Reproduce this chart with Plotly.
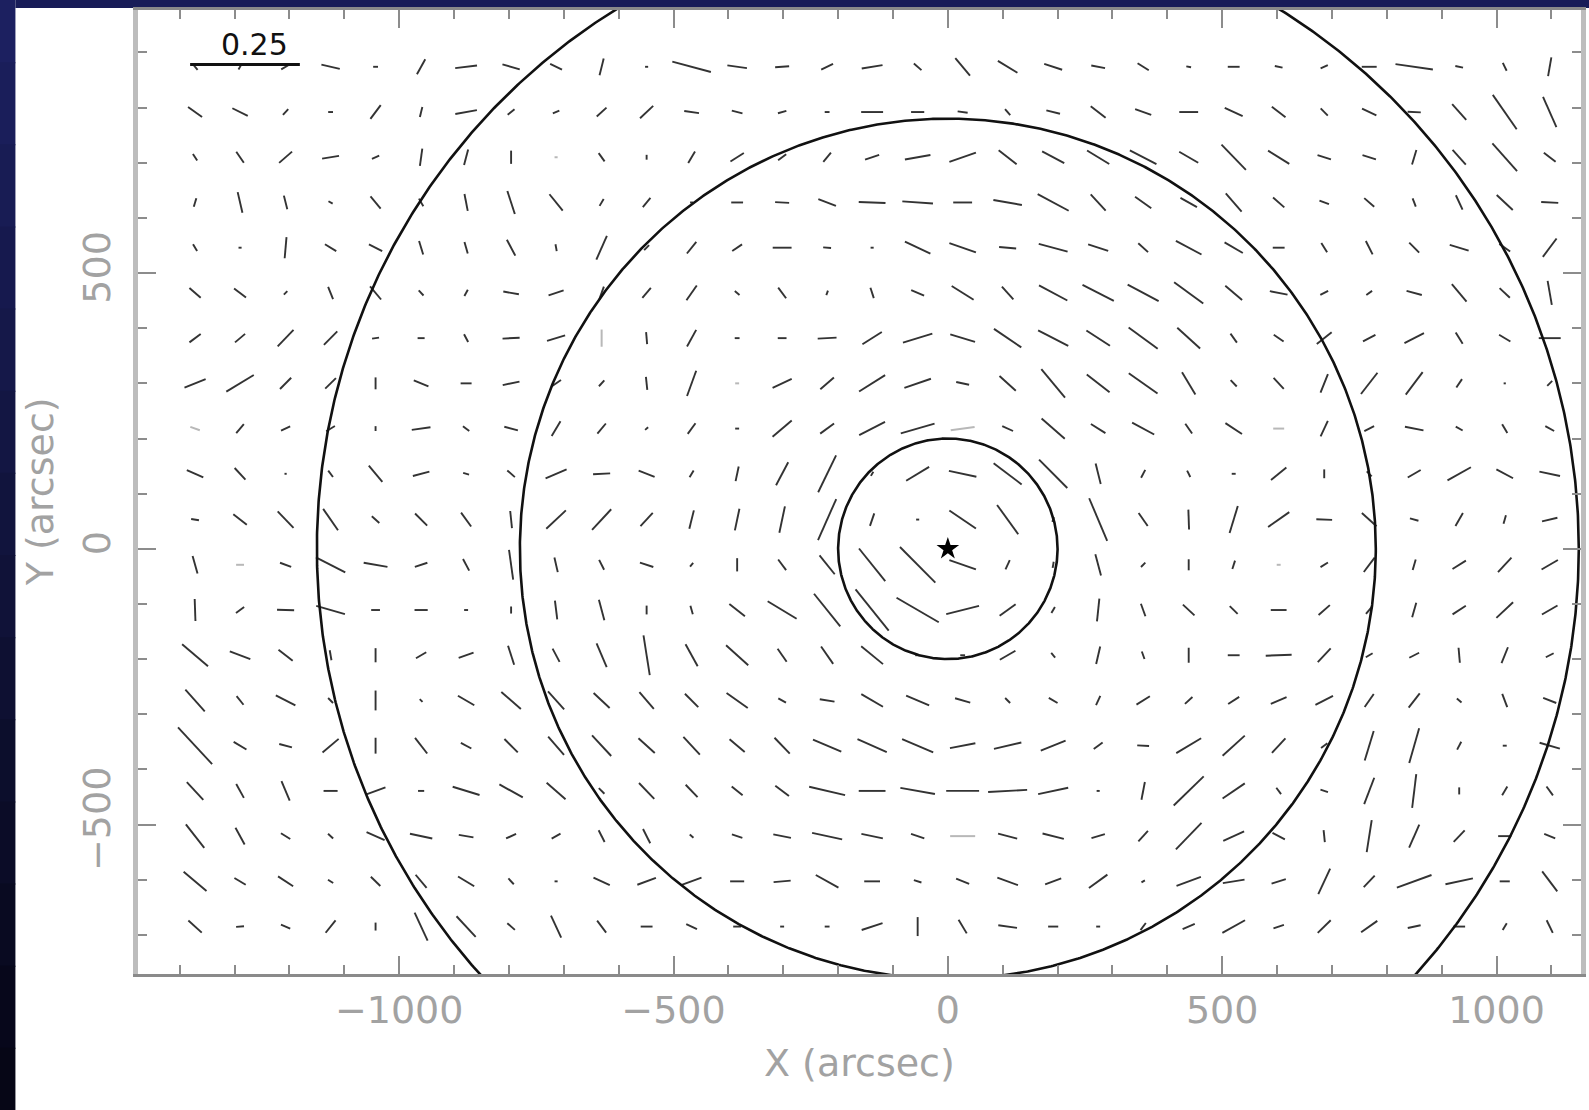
import numpy as np
import plotly.graph_objects as go

# ---------------- data ----------------
# sampling grid (arcsec)
grid_x = [-1372, -1290, -1207, -1125, -1043, -960, -878, -796, -714, -631, -549,
          -467, -384, -302, -220, -138, -55, 27, 109, 192, 274, 356, 439, 521,
          603, 686, 768, 850, 932, 1015, 1097]
grid_y = [874, 792, 710, 628, 546, 464, 382, 300, 218, 136, 53, -29, -111, -193,
          -275, -357, -439, -521, -603, -685]

# polarization degree (percent), one row per grid_y
pol_percent = [
    [1.8,1.4,2.3,4.3,1.1,3.9,5.0,4.1, 3.0,3.9,0.7,9.1,4.5,3.2,3.0,4.8, 2.3,5.2,5.2,4.3,3.2,3.0,1.1,2.7, 1.8,1.8,3.4,8.6,1.8,2.0,4.3],
    [3.9,3.9,1.8,1.1,3.9,2.3,5.0,2.0, 1.6,3.0,4.1,3.4,2.5,2.0,1.1,5.0, 3.0,2.3,1.8,3.2,4.3,3.9,4.3,4.5, 3.9,2.3,3.6,3.0,4.8,9.5,7.5],
    [1.8,3.0,3.9,3.9,1.8,3.9,3.6,3.0, 0.7,2.3,1.1,3.0,3.6,2.3,2.7,3.4, 5.9,6.4,5.2,5.7,5.9,6.8,5.0,8.0, 5.7,3.2,3.2,3.4,4.5,8.4,3.4],
    [2.0,4.8,3.2,1.1,3.6,2.0,3.9,5.5, 4.8,1.8,2.7,0.7,2.7,3.2,4.3,6.1, 7.0,4.3,6.6,8.0,5.0,4.5,4.3,5.5, 3.4,2.3,3.0,2.0,3.6,5.0,3.9],
    [1.8,0.7,4.8,3.0,3.4,3.2,2.7,4.1, 1.6,5.9,1.6,3.4,2.7,4.3,1.8,0.7, 6.4,6.4,3.9,6.8,4.8,3.0,6.6,4.8, 2.7,2.5,3.4,3.2,4.5,3.0,5.2],
    [3.4,3.4,1.1,3.0,3.9,1.6,1.6,3.6, 3.6,3.0,3.0,4.1,1.4,3.0,1.1,2.5, 3.2,5.9,3.9,7.3,8.0,8.0,8.2,5.0, 4.1,2.0,1.6,3.6,5.2,3.2,5.5],
    [3.2,3.0,5.2,4.3,1.6,1.6,2.0,3.9, 4.3,3.9,2.7,4.3,1.1,2.0,4.3,5.2, 7.0,5.9,7.5,7.7,6.4,8.2,7.0,2.5, 2.7,4.3,3.2,5.0,3.0,3.0,5.0],
    [5.2,7.3,3.6,3.4,2.7,3.6,2.5,3.9, 2.7,1.8,3.0,6.1,0.9,4.8,4.1,7.0, 6.4,3.0,5.0,8.4,6.6,8.0,5.9,2.0, 3.4,4.5,6.1,6.4,2.3,0.5,1.6],
    [2.3,2.7,2.3,2.3,1.1,4.3,1.8,3.2, 3.9,3.0,0.9,3.0,0.9,5.7,3.9,6.6, 8.0,5.5,2.7,7.0,3.9,5.7,2.7,4.5, 2.5,3.9,2.5,4.3,1.8,2.3,2.3],
    [4.1,3.6,0.5,1.8,4.8,3.9,1.4,2.3, 5.2,3.9,3.9,1.8,3.4,5.9,9.3,1.1, 6.1,6.4,8.0,9.1,4.8,2.0,1.6,0.9, 4.5,2.0,1.6,3.4,6.1,4.3,4.8],
    [1.8,3.9,5.2,5.9,2.3,3.9,3.9,3.9, 6.1,6.4,4.1,4.3,5.0,6.1,10.2,3.0, 0.7,7.3,8.2,1.1,10.5,3.6,4.5,6.4, 5.9,3.6,4.5,2.0,3.4,2.0,3.6],
    [4.1,1.8,2.7,7.5,5.5,3.0,3.0,6.8, 3.4,2.5,3.2,1.1,3.0,3.0,5.5,9.5, 11.4,6.4,2.3,1.4,5.0,1.4,2.5,2.0, 0.9,2.0,4.1,2.5,3.6,4.5,4.3],
    [5.0,2.3,3.9,6.8,2.0,3.0,0.9,1.6, 4.3,4.8,2.0,2.0,4.5,7.7,9.5,12.0, 11.1,7.7,4.5,1.6,5.2,3.0,3.6,2.5, 3.6,3.4,2.3,3.4,3.6,5.2,4.1],
    [7.7,5.0,4.1,2.3,3.2,2.7,3.6,4.5, 3.4,5.9,9.1,5.7,6.8,3.6,4.8,6.4, 1.1,1.1,4.1,1.4,4.1,1.8,3.4,2.7, 5.9,4.3,1.8,2.5,3.4,3.9,2.0],
    [6.6,2.5,5.0,1.6,4.5,0.9,4.3,5.9, 5.5,5.0,5.0,4.3,5.9,2.0,3.4,5.7, 5.7,3.6,1.6,2.3,2.3,3.6,2.3,3.0, 3.9,4.5,3.6,4.1,1.4,3.2,3.2],
    [11.4,3.4,3.0,4.8,3.6,4.5,2.7,4.3, 5.5,6.4,5.0,5.5,4.5,5.0,7.0,7.3, 7.7,5.9,6.4,6.1,2.5,2.7,6.6,6.8, 4.5,1.8,7.0,8.2,2.0,0.9,4.8],
    [5.5,3.6,4.8,3.2,4.8,1.4,6.4,6.1, 5.7,1.8,5.0,3.9,3.2,3.9,8.4,6.1, 8.0,7.5,8.9,7.0,0.7,4.1,9.5,6.1, 1.8,1.8,6.4,7.7,1.6,2.3,2.5],
    [6.8,4.3,2.5,1.6,4.5,5.2,3.4,2.5, 2.3,3.0,3.6,1.1,2.5,4.1,7.0,5.0, 3.2,5.7,4.5,5.0,3.2,3.2,8.4,5.2, 3.2,2.7,7.3,5.7,3.6,3.0,2.7],
    [6.8,3.0,4.1,1.4,3.0,3.9,4.3,1.8, 0.7,4.1,4.5,4.8,3.2,3.9,5.9,3.6, 1.8,3.2,5.0,3.9,5.2,0.9,5.9,5.0, 3.4,6.4,3.6,8.4,6.4,2.3,5.7],
    [4.1,1.8,2.3,3.6,1.8,7.0,6.4,2.3, 5.5,3.4,2.7,2.7,1.8,0.9,1.1,5.0, 4.3,3.6,4.3,2.3,0.9,2.0,3.0,5.9, 2.5,4.1,4.5,3.0,2.7,1.8,3.2],
]

# polarization direction (degrees, counter-clockwise from +X)
pol_angle = [
    [-50,60,30,-13,0,61,7,-16, -26,76,0,-15,-8,4,26,9, -41,-50,-31,-18,-11,-32,-10,0, -12,24,0,-8,-12,-64,80],
    [-35,-26,48,0,53,76,10,39, 22,42,43,-8,-14,16,0,0, 0,-8,-49,-14,-38,-20,0,-25, -37,-45,-25,-3,-48,-55,-66],
    [-57,-55,41,9,23,82,75,90, 0,-54,90,59,32,37,50,19, 10,19,-38,-28,-31,-27,-30,-46, -32,-17,-17,73,-48,-48,-38],
    [73,-77,-76,-30,-50,-60,-79,-72, -51,59,50,0,0,-3,-21,-2, -4,0,-10,-28,-47,-35,-29,-49, -41,-20,-41,-69,-65,-43,-3],
    [-59,0,85,-31,-27,-73,-74,-62, -80,66,45,51,34,0,-4,0, -25,-19,-5,-15,-18,-42,-28,-30, 0,-58,-63,-45,-17,-35,53],
    [-41,-37,45,-68,-50,-47,61,-10, 18,70,50,55,-40,-53,70,-72, -23,-32,-48,-28,-27,-28,-36,-40, -11,27,35,-15,-50,-43,-80],
    [37,40,46,45,8,0,-62,3, 17,90,-85,61,0,0,3,32, 17,-17,-34,-27,-33,-36,-42,-54, -34,38,28,27,-58,-31,0],
    [22,31,45,44,90,-22,0,12, 34,47,-84,70,0,25,41,32, 19,-12,-42,-50,-38,-35,-59,-46, -47,68,52,53,56,0,45],
    [-20,50,25,31,90,8,-37,-15, 59,50,40,54,0,40,36,27, 16,8,-24,-41,-32,-28,-55,-33, 0,65,27,-11,-29,-59,-29],
    [-24,-47,0,-53,-50,15,-16,-41, 23,3,-21,59,78,62,64,60, 31,-12,-37,-45,-76,62,-63,0, 39,90,-45,30,29,-28,-12],
    [-9,-38,-46,-55,-42,-45,-54,-84, 43,47,47,76,78,78,66,71, 0,-34,-54,70,-67,-55,-88,73, 35,-2,-42,-15,60,74,13],
    [-74,0,-20,-27,-10,18,-62,-82, -77,-63,-18,50,90,-53,-51,-51, -45,-19,65,80,-75,45,90,72, 0,32,53,74,32,47,30],
    [-88,36,-2,-16,0,0,0,90, -83,-75,90,-74,-38,-31,-51,-51, -30,14,36,60,84,-70,-43,-44, 0,41,50,74,33,43,30],
    [-40,-21,-38,-80,90,30,20,-72, -62,-67,-81,-61,-42,-55,-55,-39, 0,0,30,-50,77,-70,90,0, 2,47,30,27,-85,68,27],
    [-48,-51,-27,-45,90,-45,-30,-41, -48,-43,-49,-45,-35,-29,-9,-30, -23,-16,-45,-30,65,32,42,33, 23,27,55,52,-40,-69,-21],
    [-47,-31,-15,40,90,-52,-28,-45, -49,-47,-42,-47,-40,-46,-23,-24, -23,11,13,22,36,-3,31,42, 47,37,73,74,62,0,-16],
    [-47,-61,-67,0,20,0,-17,-29, -41,-45,-46,-46,-39,-37,-13,0, -10,0,3,12,0,79,44,34, -53,-18,69,83,90,59,-54],
    [-52,-61,-32,-43,-24,-12,-10,25, 29,-63,-63,-40,-18,-11,-12,-12, -19,0,-15,-14,17,47,46,24, -28,-84,81,66,46,0,-22],
    [-40,-31,-33,-32,-44,-50,-31,-47, 0,-25,20,20,0,5,-29,0, -17,-22,-20,20,36,30,20,9, 17,65,46,20,12,0,-53],
    [-42,5,-23,51,90,-65,-47,-41, -65,-53,0,-25,0,0,0,18, 90,-59,-8,0,0,53,23,29, 18,44,35,12,0,59,-64],
]

# low-significance vectors drawn in light grey (row, column)
faint_cells = [(2, 8), (6, 9), (7, 12), (8, 0), (8, 17), (8, 24), (11, 1), (11, 24), (17, 17)]

circle_radii = [200, 780, 1150]      # arcsec
scale_bar_value = 0.25               # polarization fraction of the reference bar
arcsec_per_unit = 800                # vector length for polarization = 1.0
star_xy = (0, 0)

# ---------------- build geometry ----------------
def segments(cells):
    xs, ys = [], []
    for (r, c) in cells:
        L = pol_percent[r][c] / 100.0 * arcsec_per_unit
        th = np.deg2rad(pol_angle[r][c])
        dx, dy = 0.5 * L * np.cos(th), 0.5 * L * np.sin(th)
        x0, y0 = grid_x[c], grid_y[r]
        xs += [x0 - dx, x0 + dx, None]
        ys += [y0 - dy, y0 + dy, None]
    return xs, ys

faint_set = set(faint_cells)
all_cells = [(r, c) for r in range(len(grid_y)) for c in range(len(grid_x))]
dark_cells = [rc for rc in all_cells if rc not in faint_set]

fig = go.Figure()

fx, fy = segments(faint_cells)
fig.add_trace(go.Scatter(x=fx, y=fy, mode="lines",
                         line=dict(color="#b8b8b8", width=2), hoverinfo="skip", showlegend=False))
dx_, dy_ = segments(dark_cells)
fig.add_trace(go.Scatter(x=dx_, y=dy_, mode="lines",
                         line=dict(color="#333333", width=1.9), hoverinfo="skip", showlegend=False))

theta = np.linspace(0, 2 * np.pi, 1441)
for R in circle_radii:
    fig.add_trace(go.Scatter(x=R * np.cos(theta), y=R * np.sin(theta), mode="lines",
                             line=dict(color="#111111", width=2.6),
                             hoverinfo="skip", showlegend=False))

# scale bar
bar_x0, bar_y = -1381, 878
fig.add_trace(go.Scatter(x=[bar_x0, bar_x0 + scale_bar_value * arcsec_per_unit],
                         y=[bar_y, bar_y], mode="lines",
                         line=dict(color="#111111", width=3), hoverinfo="skip", showlegend=False))

fig.add_trace(go.Scatter(x=[star_xy[0]], y=[star_xy[1]], mode="markers",
                         marker=dict(symbol="star", size=17, color="black"),
                         hoverinfo="skip", showlegend=False))

fig.add_annotation(x=bar_x0 + scale_bar_value * arcsec_per_unit / 2 + 17, y=914, xref="x", yref="y",
                   text=f"{scale_bar_value:.2f}", showarrow=False,
                   font=dict(family="DejaVu Sans", size=30, color="#111111"))

# ---------------- layout ----------------
W, H = 1589, 1110
ML, MR, MT, MB = 138, 3, 10, 136
pw, ph = W - ML - MR, H - MT - MB

def px_to_paper_x(px):
    return (px - ML) / pw

def px_to_paper_y(py):
    return (H - MB - py) / ph

label_font = dict(family="DejaVu Sans ExtraLight, DejaVu Sans", size=38, color="#a2a2a2")

fig.add_annotation(text="X (arcsec)", xref="paper", yref="paper",
                   x=0.5, y=px_to_paper_y(1063), xanchor="center", yanchor="middle",
                   showarrow=False, font=label_font)
fig.add_annotation(text="Y (arcsec)", xref="paper", yref="paper",
                   x=px_to_paper_x(40), y=0.5, xanchor="center", yanchor="middle",
                   textangle=-90, showarrow=False, font=label_font)

shapes = []
# navy gradient on the left strip of the slide
n = 14
top_c = np.array([0x1c, 0x20, 0x60])
bot_c = np.array([0x06, 0x06, 0x16])
for i in range(n):
    t = i / (n - 1)
    col = (top_c * (1 - t) + bot_c * t).astype(int)
    y_top = -20 + i * (H + 40) / n
    y_bot = y_top + (H + 40) / n + 1
    shapes.append(dict(type="rect", xref="paper", yref="paper", layer="below",
                       x0=px_to_paper_x(-20), x1=px_to_paper_x(15),
                       y0=px_to_paper_y(y_bot), y1=px_to_paper_y(y_top),
                       fillcolor=f"rgb({col[0]},{col[1]},{col[2]})", line=dict(width=0)))
# top band of the slide
shapes.append(dict(type="rect", xref="paper", yref="paper", layer="below",
                   x0=px_to_paper_x(15), x1=px_to_paper_x(W + 20),
                   y0=px_to_paper_y(8), y1=px_to_paper_y(-20),
                   fillcolor="#181c58", line=dict(width=0)))

axis_common = dict(
    showgrid=False, zeroline=False,
    ticks="inside", ticklen=18, tickwidth=2, tickcolor="#8c8c8c",
    mirror="allticks", showline=True,
    minor=dict(dtick=100, ticks="inside", ticklen=9, tickwidth=2, tickcolor="#8c8c8c"),
    tickfont=label_font, dtick=500, tick0=0,
)

fig.update_layout(
    width=W, height=H,
    margin=dict(l=ML, r=MR, t=MT, b=MB, pad=0),
    paper_bgcolor="white", plot_bgcolor="white",
    shapes=shapes,
    xaxis=dict(range=[-1476, 1154], linecolor="#8a8a8a", linewidth=3,
               ticklabelstandoff=0, **axis_common),
    yaxis=dict(range=[-771, 977], linecolor="#bdbdbd", linewidth=5,
               tickangle=-90, ticklabelstandoff=8, **axis_common),
)

fig.write_html("out.html", config=dict(displayModeBar=False),
               post_script="document.body.style.margin='0px';document.body.style.overflow='hidden';")
